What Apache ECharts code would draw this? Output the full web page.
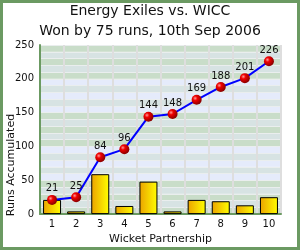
<!DOCTYPE html>
<html>
<head>
<meta charset="utf-8">
<script src="https://cdn.jsdelivr.net/npm/echarts@6/dist/echarts.min.js"></script>
<style>
  html, body { margin: 0; padding: 0; background: #fff; }
  #chart { width: 300px; height: 250px; }
</style>
</head>
<body>
<div id="chart"></div>
<script>
// match data
const wickets = ["1", "2", "3", "4", "5", "6", "7", "8", "9", "10"];
const accumulated = [21, 25, 84, 96, 144, 148, 169, 188, 201, 226];
const partnership = [21, 4, 59, 12, 48, 4, 21, 19, 13, 25];
const yTicks = [0, 50, 100, 150, 200, 250];

const FONT = "DejaVu Sans";
const GREEN = "#6b9a62";

// 10-run stripes: green/lavender blocks of 50 runs, grey between
const G = "#c9ddc9", L = "#e5ebfb", S = "#d7e3e3";

const chart = echarts.init(document.getElementById("chart"));

const option = {
  animation: false,
  backgroundColor: "#fff",
  textStyle: { fontFamily: FONT },
  title: {
    text: "Energy Exiles vs. WICC\nWon by 75 runs, 10th Sep 2006",
    left: "center",
    top: 1,
    padding: 0,
    textStyle: {
      fontFamily: FONT,
      fontSize: 14,
      fontWeight: "normal",
      color: "#111",
      lineHeight: 20,
    },
  },
  grid: { left: 40, right: 19, top: 45, bottom: 33, containLabel: false },
  xAxis: {
    type: "category",
    data: wickets,
    name: "Wicket Partnership",
    nameLocation: "middle",
    nameGap: 18,
    nameTextStyle: { fontFamily: FONT, fontSize: 11, color: "#111" },
    axisLine: { lineStyle: { color: GREEN, width: 2 } },
    axisTick: { show: false },
    axisLabel: { fontFamily: FONT, fontSize: 10, color: "#111", margin: 5 },
    splitLine: { show: true, lineStyle: { color: "#dedede", width: 2 } },
  },
  yAxis: {
    type: "value",
    min: 0,
    max: 250,
    interval: 10,
    axisLine: { show: true, lineStyle: { color: GREEN, width: 2 } },
    axisTick: { show: false },
    axisLabel: {
      fontFamily: FONT,
      fontSize: 10,
      color: "#111",
      margin: 6,
      formatter: (v) => (yTicks.includes(v) ? String(v) : ""),
    },
    splitLine: { show: true, lineStyle: { color: "#eaeeee", width: 1 } },
    splitArea: {
      show: true,
      areaStyle: { color: [G, S, G, S, G, L, S, L, S, L] },
    },
  },
  series: [
    {
      type: "bar",
      data: partnership,
      barWidth: 18,
      itemStyle: {
        color: new echarts.graphic.LinearGradient(0, 0, 1, 0, [
          { offset: 0, color: "#eba200" },
          { offset: 1, color: "#ffff00" },
        ]),
        borderColor: "#000",
        borderWidth: 1,
      },
    },
    {
      type: "line",
      data: accumulated,
      symbol: "circle",
      symbolSize: 10,
      showAllSymbol: true,
      lineStyle: { color: "#0000ff", width: 2 },
      itemStyle: {
        color: new echarts.graphic.RadialGradient(0.35, 0.35, 0.65, [
          { offset: 0, color: "#ff9a9a" },
          { offset: 0.35, color: "#f00000" },
          { offset: 1, color: "#8c0000" },
        ]),
        borderWidth: 0,
      },
      label: {
        show: true,
        position: "top",
        distance: 1,
        fontFamily: FONT,
        fontSize: 10,
        color: "#111",
      },
    },
  ],
  graphic: [
    {
      type: "text",
      x: 11,
      y: 165,
      rotation: Math.PI / 2,
      style: {
        text: "Runs Accumulated",
        font: "11px DejaVu Sans",
        fill: "#111",
        align: "center",
        verticalAlign: "middle",
      },
    },
    {
      type: "rect",
      z: 100,
      shape: { x: 1.5, y: 1.5, width: 297, height: 247 },
      style: { fill: "none", stroke: GREEN, lineWidth: 3 },
    },
  ],
};

chart.setOption(option);
</script>
</body>
</html>
